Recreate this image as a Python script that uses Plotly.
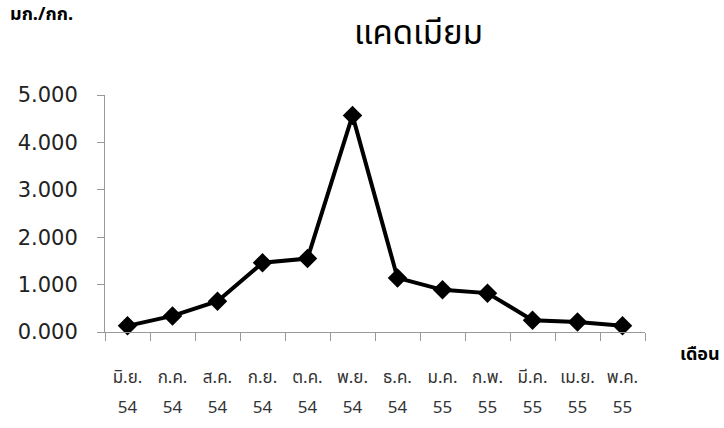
import plotly.graph_objects as go

months = ["มิ.ย.", "ก.ค.", "ส.ค.", "ก.ย.", "ต.ค.", "พ.ย.", "ธ.ค.", "ม.ค.", "ก.พ.", "มี.ค.", "เม.ย.", "พ.ค."]
years = ["54", "54", "54", "54", "54", "54", "54", "55", "55", "55", "55", "55"]
cadmium = [0.13, 0.34, 0.65, 1.46, 1.55, 4.57, 1.14, 0.89, 0.82, 0.25, 0.21, 0.13]
y_ticks = [0, 1, 2, 3, 4, 5]

idx = list(range(len(months)))

fig = go.Figure()
fig.add_trace(
    go.Scatter(
        x=idx,
        y=cadmium,
        mode="lines+markers",
        line=dict(color="black", width=4),
        marker=dict(symbol="diamond", size=15, color="black"),
        cliponaxis=False,
        hoverinfo="skip",
    )
)
# invisible companion trace carrying the year row of the month axis
fig.add_trace(
    go.Scatter(x=idx, y=cadmium, xaxis="x2", mode="none", hoverinfo="skip", showlegend=False)
)

thai_font = "Noto Sans Thai, Noto Sans, DejaVu Sans"

fig.update_layout(
    width=724,
    height=428,
    margin=dict(l=105, r=79, t=95, b=96, autoexpand=False),
    plot_bgcolor="white",
    paper_bgcolor="white",
    showlegend=False,
    font=dict(family=thai_font, color="black"),
    title=dict(
        text="แคดเมียม",
        x=0.578,
        xanchor="center",
        y=0.925,
        yanchor="middle",
        font=dict(size=33, family=thai_font, color="black"),
    ),
    annotations=[
        dict(text="<b>มก./กก.</b>", xref="paper", yref="paper", x=-0.18, y=1.338,
             xanchor="left", yanchor="middle", showarrow=False, font=dict(size=18)),
        dict(text="<b>เดือน</b>", xref="paper", yref="paper", x=1.143, y=-0.097,
             xanchor="right", yanchor="middle", showarrow=False, font=dict(size=18)),
    ],
    xaxis=dict(
        range=[-0.5, 11.5],
        tickvals=idx,
        ticktext=months,
        ticks="",
        minor=dict(tick0=-0.5, dtick=1, ticks="outside", ticklen=8, tickcolor="#999999",
                   showgrid=False),
        showline=True,
        linecolor="#999999",
        linewidth=1,
        showgrid=False,
        zeroline=False,
        tickfont=dict(size=17, color="#333333"),
        tickangle=0,
        ticklabelstandoff=30,
        automargin=False,
    ),
    xaxis2=dict(
        overlaying="x",
        matches="x",
        anchor="y",
        side="bottom",
        tickvals=idx,
        ticktext=years,
        ticks="",
        showline=False,
        showgrid=False,
        zeroline=False,
        tickfont=dict(size=17, color="#333333"),
        tickangle=0,
        ticklabelstandoff=63,
        automargin=False,
    ),
    yaxis=dict(
        range=[0, 5],
        tickvals=y_ticks,
        tickformat=".3f",
        ticks="outside",
        ticklen=7,
        tickcolor="#999999",
        showline=True,
        linecolor="#999999",
        linewidth=1,
        showgrid=False,
        zeroline=False,
        tickfont=dict(size=21, family="DejaVu Sans", color="#222222"),
        ticklabelstandoff=15,
        automargin=False,
    ),
)

fig.write_html("out.html")
